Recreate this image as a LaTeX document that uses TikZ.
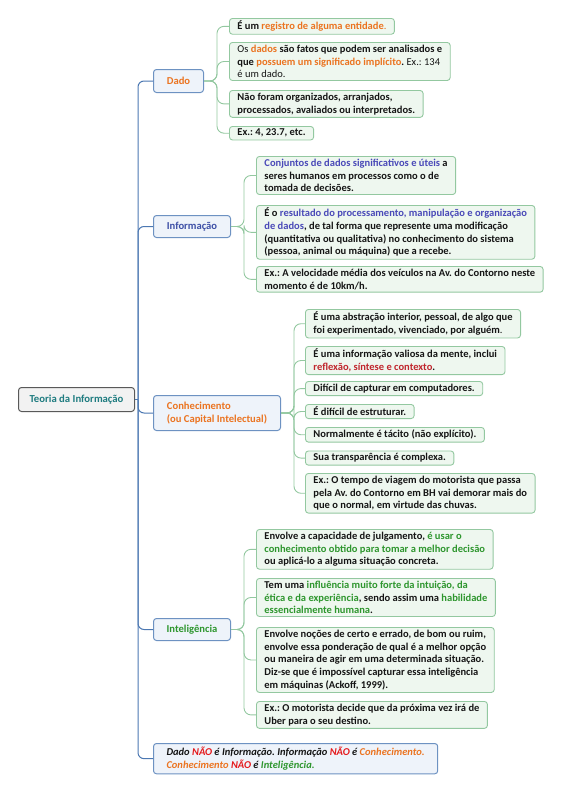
\documentclass[tikz,border=0pt]{standalone}
\usepackage{fontspec}
\setmainfont{Carlito}
\frenchspacing
\definecolor{orng}{HTML}{EB7421}
\definecolor{purp}{HTML}{4A4AB8}
\definecolor{dred}{HTML}{C0262D}
\definecolor{grn}{HTML}{2E962E}
\definecolor{nred}{HTML}{E5191C}
\definecolor{tealx}{HTML}{1F7C80}
\definecolor{txt}{HTML}{151515}
\definecolor{leafdraw}{HTML}{93C8A0}
\definecolor{leaffill}{HTML}{EEF7EF}
\definecolor{topdraw}{HTML}{6D92C2}
\definecolor{topfill}{HTML}{EEF3FA}
\definecolor{bline}{HTML}{4C78B2}
\definecolor{infotx}{HTML}{3D4FA6}
\begin{document}
\begin{tikzpicture}[x=1pt,y=-1pt,
  leaf/.style={draw=leafdraw, fill=leaffill, rounded corners=3pt, line width=0.9pt,
    inner xsep=8pt, inner ysep=2.6pt, align=left, anchor=north west,
    font=\fontsize{10.5}{12.7}\selectfont\bfseries\frenchspacing, text=txt},
  topic/.style={draw=topdraw, fill=topfill, rounded corners=3pt, line width=1pt,
    align=left, anchor=north west, inner sep=2pt,
    font=\fontsize{10.6}{13}\selectfont\bfseries\frenchspacing},
  gconn/.style={draw=leafdraw, line width=0.9pt, rounded corners=7pt},
  bconn/.style={draw=bline, line width=1pt, rounded corners=6pt}]
\useasboundingbox (0,0) rectangle (567,798);

% root
\node[draw=black!65, fill=black!5, rounded corners=3pt, line width=1pt, anchor=north west,
  minimum width=116pt, minimum height=24pt, inner sep=2pt,
  font=\fontsize{10.7}{13}\selectfont\bfseries, text=tealx] (root) at (18,387) {Teoria da Informação};

% level 1
\node[topic, minimum width=50pt, minimum height=23pt, text=orng] (dado) at (153,69) {Dado};
\node[topic, minimum width=77pt, minimum height=22pt, text=infotx] (info) at (153,215) {Informação};
\node[topic, minimum width=127pt, minimum height=35pt, text=orng] (conh) at (153,395) {Conhecimento\\(ou Capital Intelectual)};
\node[topic, minimum width=77pt, minimum height=22pt, text=grn] (intel) at (153,618) {Inteligência};
\node[topic, inner xsep=13pt, inner ysep=3.5pt, font=\fontsize{10.5}{13}\selectfont\bfseries\itshape\frenchspacing, text=txt] (concl) at (153,743)
  {Dado \textcolor{nred}{NÃO} é Informação. Informação \textcolor{nred}{NÃO} é \textcolor{orng}{Conhecimento.}\\
   \textcolor{orng}{Conhecimento} \textcolor{nred}{NÃO} é \textcolor{grn}{Inteligência.}};

% Dado leaves
\node[leaf] (d1) at (229,18) {É um \textcolor{orng}{registro de alguma entidade}{\mdseries\textcolor{orng}{.}}};
\node[leaf] (d2) at (229,42) {{\mdseries Os} \textcolor{orng}{dados} são fatos que podem ser analisados e\\
  que \textcolor{orng}{possuem um significado implícito}. {\mdseries Ex.: 134}\\ {\mdseries é um dado.}};
\node[leaf] (d3) at (229,90) {Não foram organizados, arranjados,\\processados, avaliados ou interpretados.};
\node[leaf] (d4) at (229,126) {Ex.: 4, 23.7, etc.};

% Informacao leaves
\node[leaf] (i1) at (256,156) {\textcolor{purp}{Conjuntos de dados significativos e úteis} a\\
  seres humanos em processos como o de\\ tomada de decisões.};
\node[leaf] (i2) at (256,205) {É o \textcolor{purp}{resultado do processamento, manipulação e organização}\\
  \textcolor{purp}{de dados}, de tal forma que represente uma modificação\\
  (quantitativa ou qualitativa) no conhecimento do sistema\\
  (pessoa, animal ou máquina) que a recebe.};
\node[leaf] (i3) at (256,266) {Ex.: A velocidade média dos veículos na Av. do Contorno neste\\ momento é de 10km/h.};

% Conhecimento leaves
\node[leaf] (c1) at (305,309) {É uma abstração interior, pessoal, de algo que\\ foi experimentado, vivenciado, por alguém{\mdseries .}};
\node[leaf] (c2) at (305,346) {É uma informação valiosa da mente, inclui\\ \textcolor{dred}{reflexão, síntese e contexto}.};
\node[leaf] (c3) at (305,381) {Difícil de capturar em computadores.};
\node[leaf] (c4) at (305,404) {É difícil de estruturar.};
\node[leaf] (c5) at (305,427) {Normalmente é tácito (não explícito).};
\node[leaf] (c6) at (305,450.5) {Sua transparência é complexa.};
\node[leaf] (c7) at (305,473) {Ex.: O tempo de viagem do motorista que passa\\ pela Av. do Contorno em BH vai demorar mais do\\ que o normal, em virtude das chuvas.};

% Inteligencia leaves
\node[leaf] (n1) at (256,529) {Envolve a capacidade de julgamento, \textcolor{grn}{é usar o}\\
  \textcolor{grn}{conhecimento obtido para tomar a melhor decisão}\\ ou aplicá-lo a alguma situação concreta.};
\node[leaf] (n2) at (256,578) {Tem uma \textcolor{grn}{influência muito forte da intuição, da}\\
  \textcolor{grn}{ética e da experiência}, sendo assim uma \textcolor{grn}{habilidade}\\ \textcolor{grn}{essencialmente humana}.};
\node[leaf] (n3) at (256,627) {Envolve noções de certo e errado, de bom ou ruim,\\
  envolve essa ponderação de qual é a melhor opção\\
  ou maneira de agir em uma determinada situação.\\
  Diz-se que é impossível capturar essa inteligência\\
  em máquinas (Ackoff, 1999).};
\node[leaf] (n4) at (256,701) {Ex.: O motorista decide que da próxima vez irá de\\ Uber para o seu destino.};

% blue trunk
\draw[bconn] (root.east) -- ++(3,0) coordinate (trunk);
\foreach \t in {dado,info,conh,intel,concl}
  \draw[bconn] (trunk) |- (\t.west);

% green connectors
\foreach \t in {d1,d2,d3,d4}
  \draw[gconn] (dado.east) -- ++(13,0) |- (\t.west);
\foreach \t in {i1,i2,i3}
  \draw[gconn] (info.east) -- ++(13,0) |- (\t.west);
\foreach \t in {c1,c2,c3,c4,c5,c6,c7}
  \draw[gconn] (conh.east) -- ++(13,0) |- (\t.west);
\foreach \t in {n1,n2,n3,n4}
  \draw[gconn] (intel.east) -- ++(13,0) |- (\t.west);
\end{tikzpicture}
\end{document}
